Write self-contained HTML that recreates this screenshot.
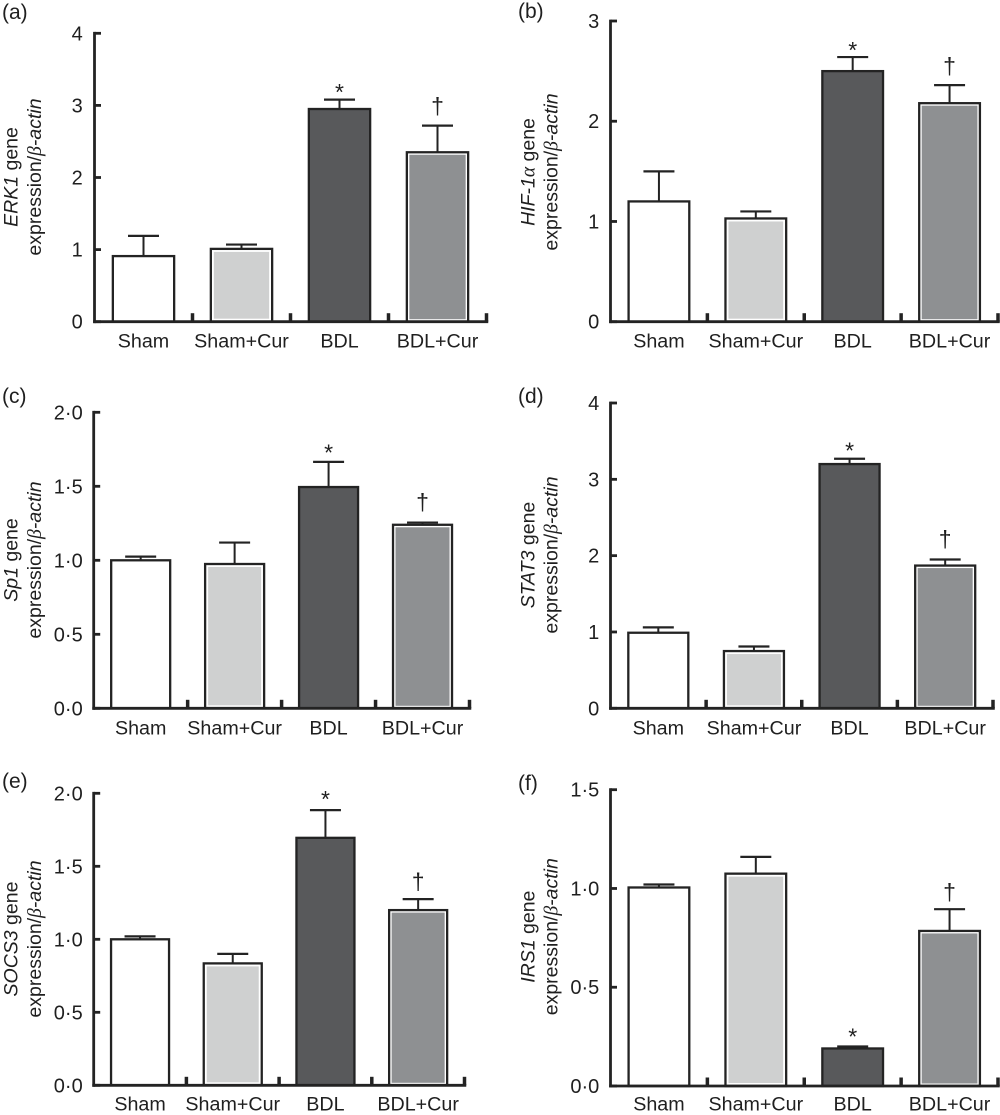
<!DOCTYPE html>
<html lang="en">
<head>
<meta charset="utf-8">
<title>Gene expression bar charts</title>
<style>
html,body{margin:0;padding:0;background:#fff;}
svg{display:block;font-family:"Liberation Sans",sans-serif;}
</style>
</head>
<body>
<svg id="figure" xmlns="http://www.w3.org/2000/svg" width="1000" height="1115" viewBox="0 0 1000 1115"></svg>
<script>
// Shared data
const categories = ['Sham', 'Sham+Cur', 'BDL', 'BDL+Cur'];

const erkValues = [0.91, 1.01, 2.95, 2.35];
const erkErrors = [0.28, 0.06, 0.13, 0.37];
const erkTicks = [0, 1, 2, 3, 4];
const erkTickLabels = ['0', '1', '2', '3', '4'];
const erkMarkers = ['', '', '*', '†'];

const hifValues = [1.2, 1.03, 2.5, 2.18];
const hifErrors = [0.3, 0.07, 0.14, 0.18];
const hifTicks = [0, 1, 2, 3];
const hifTickLabels = ['0', '1', '2', '3'];
const hifMarkers = ['', '', '*', '†'];

const sp1Values = [1.0, 0.975, 1.495, 1.24];
const sp1Errors = [0.025, 0.145, 0.17, 0.015];
const sp1Ticks = [0, 0.5, 1, 1.5, 2];
const sp1TickLabels = ['0·0', '0·5', '1·0', '1·5', '2·0'];
const sp1Markers = ['', '', '*', '†'];

const statValues = [0.99, 0.75, 3.2, 1.87];
const statErrors = [0.07, 0.06, 0.07, 0.08];
const statTicks = [0, 1, 2, 3, 4];
const statTickLabels = ['0', '1', '2', '3', '4'];
const statMarkers = ['', '', '*', '†'];

const socsValues = [1.0, 0.835, 1.695, 1.2];
const socsErrors = [0.02, 0.065, 0.19, 0.075];
const socsTicks = [0, 0.5, 1, 1.5, 2];
const socsTickLabels = ['0·0', '0·5', '1·0', '1·5', '2·0'];
const socsMarkers = ['', '', '*', '†'];

const irsValues = [1.005, 1.075, 0.19, 0.785];
const irsErrors = [0.015, 0.085, 0.01, 0.11];
const irsTicks = [0, 0.5, 1, 1.5];
const irsTickLabels = ['0·0', '0·5', '1·0', '1·5'];
const irsMarkers = ['', '', '*', '†'];

// Layout (separate from the data)
const INK = '#232323';
const TEXT = '#1f1f1f';
const CAT_FONT = 19.7;
const TICK_FONT = 20;
const TITLE_FONT = 19.5;
const MARK_FONT = 23;
const barFills = ['#ffffff', '#cfd0d0', '#58595b', '#8e9092'];
const barInsets = [0, 3, 0, 2.5];

const panels = [
  {id:'a', letter:'(a)', gene:'ERK1', geneSuffix:' gene', values:erkValues, errors:erkErrors, ticks:erkTicks, tickLabels:erkTickLabels, markers:erkMarkers,
   left:94.5, right:486.5, y0:321.7, top:33.3, barW:61.3, labelRight:82.7, catY:347.5, titleX1:17.5, titleX2:41, titleCy:177, letterX:2, letterY:19, starGap:11, daggerGap:17.7},
  {id:'b', letter:'(b)', gene:'HIF-1', greek:'α', geneSuffix:' gene', values:hifValues, errors:hifErrors, ticks:hifTicks, tickLabels:hifTickLabels, markers:hifMarkers,
   left:610.5, right:998, y0:321.7, top:21, barW:60.7, labelRight:599.3, catY:347.5, titleX1:534.3, titleX2:557.3, titleCy:172, letterX:518, letterY:18, starGap:10.7, daggerGap:17},
  {id:'c', letter:'(c)', gene:'Sp1', geneSuffix:' gene', values:sp1Values, errors:sp1Errors, ticks:sp1Ticks, tickLabels:sp1TickLabels, markers:sp1Markers,
   left:93.7, right:469.5, y0:708.3, top:412.3, barW:59, labelRight:82.7, catY:734.5, titleX1:17.3, titleX2:41, titleCy:560, letterX:2, letterY:403, starGap:13, daggerGap:18.7},
  {id:'d', letter:'(d)', gene:'STAT3', geneSuffix:' gene', values:statValues, errors:statErrors, ticks:statTicks, tickLabels:statTickLabels, markers:statMarkers,
   left:610.5, right:993, y0:708.3, top:403, barW:60, labelRight:599.3, catY:734.5, titleX1:534.3, titleX2:557.3, titleCy:555, letterX:518, letterY:403, starGap:11.7, daggerGap:18.7},
  {id:'e', letter:'(e)', gene:'SOCS3', geneSuffix:' gene', values:socsValues, errors:socsErrors, ticks:socsTicks, tickLabels:socsTickLabels, markers:socsMarkers,
   left:93.7, right:464.5, y0:1085.3, top:793.3, barW:58, labelRight:82.7, catY:1110.5, titleX1:17.3, titleX2:41, titleCy:939, letterX:2, letterY:788, starGap:14.7, daggerGap:15.7},
  {id:'f', letter:'(f)', gene:'IRS1', geneSuffix:' gene', values:irsValues, errors:irsErrors, ticks:irsTicks, tickLabels:irsTickLabels, markers:irsMarkers,
   left:610.5, right:998, y0:1086, top:789.7, barW:60.7, labelRight:599.3, catY:1110.5, titleX1:534.3, titleX2:557.3, titleCy:936.7, letterX:518, letterY:790, starGap:13.3, daggerGap:15}
];

const NS = 'http://www.w3.org/2000/svg';
const figure = document.getElementById('figure');

function make(tag, parent, props, text) {
  const node = document.createElementNS(NS, tag);
  for (const k in props) node.setAttribute(k, props[k]);
  if (text !== undefined) node.textContent = text;
  parent.appendChild(node);
  return node;
}

function drawPanel(p) {
  const maxTick = p.ticks[p.ticks.length - 1];
  const yScale = v => p.y0 - (v / maxTick) * (p.y0 - p.top);
  const step = (p.right - p.left) / categories.length;
  const xCenter = i => p.left + step * (i + 0.5);
  const xTick = i => p.left + step * (i + 1);

  const panel = make('g', figure, {});
  
  

  const letter = make('text', panel, {x:p.letterX, y:p.letterY, 'font-size':21, fill:TEXT}, p.letter);
  
  

  // y-axis title
  const title = make('text', panel, {transform:'translate(' + p.titleX1 + ' ' + p.titleCy + ') rotate(-90)', 'text-anchor':'middle', 'font-size':TITLE_FONT, fill:TEXT});
  
  
  make('tspan', title, {'font-style':'italic'}, p.gene);
  if (p.greek) make('tspan', title, {'font-style':'italic', 'font-family':'"Liberation Serif",serif'}, p.greek);
  make('tspan', title, {}, p.geneSuffix);

  const title2 = make('text', panel, {transform:'translate(' + p.titleX2 + ' ' + p.titleCy + ') rotate(-90)', 'text-anchor':'middle', 'font-size':TITLE_FONT, fill:TEXT});
  
  
  make('tspan', title2, {}, 'expression/');
  make('tspan', title2, {'font-style':'italic', 'font-family':'"Liberation Serif",serif'}, 'β');
  make('tspan', title2, {'font-style':'italic'}, '-actin');

  // bars
  p.values.forEach((v, i) => {
    const cx = xCenter(i);
    const x = cx - p.barW / 2;
    const yTop = yScale(v);
    const yErr = yScale(v + p.errors[i]);
    const h = p.y0 - yTop;

    const whisker = make('line', panel, {x1:cx, x2:cx, y1:yTop, y2:yErr, stroke:INK, 'stroke-width':2});
    
    

    const cap = make('line', panel, {x1:cx - 15.5, x2:cx + 15.5, y1:yErr, y2:yErr, stroke:INK, 'stroke-width':2.2});
    
    

    const inset = barInsets[i];
    const bar = make('rect', panel, {x:x, y:yTop, width:p.barW, height:h, fill:inset ? '#ffffff' : barFills[i], stroke:INK, 'stroke-width':2.3});
    
    

    if (inset) {
      const inner = make('rect', panel, {x:x + inset, y:yTop + inset, width:p.barW - 2 * inset, height:Math.max(0, h - 2 * inset), fill:barFills[i]});
      
      
    }

    const mark = p.markers[i];
    if (mark) {
      const isStar = mark === '*';
      const baseline = isStar ? yErr - p.starGap + 11.5 : yErr - p.daggerGap + 6;
      const sig = make('text', panel, {x:cx, y:baseline, 'text-anchor':'middle', 'font-size':MARK_FONT, fill:TEXT}, mark);
      
      
    }

    const cat = make('text', panel, {x:cx, y:p.catY, 'text-anchor':'middle', 'font-size':CAT_FONT, fill:TEXT}, categories[i]);
    
    

    const xt = make('line', panel, {x1:xTick(i), x2:xTick(i), y1:p.y0, y2:p.y0 - 8.5, stroke:INK, 'stroke-width':3.5});
    
    
  });

  // axes
  const yAxis = make('line', panel, {x1:p.left, x2:p.left, y1:p.top - 1.4, y2:p.y0 + 1.4, stroke:INK, 'stroke-width':2.8});
  
  

  const xAxis = make('line', panel, {x1:p.left - 1.4, x2:p.right + 1.75, y1:p.y0, y2:p.y0, stroke:INK, 'stroke-width':2.8});
  
  

  p.ticks.forEach((t, i) => {
    const y = yScale(t);
    const yt = make('line', panel, {x1:p.left, x2:p.left + 6.5, y1:y, y2:y, stroke:INK, 'stroke-width':2.8});
    
    

    const tl = make('text', panel, {x:p.labelRight, y:y + 7, 'text-anchor':'end', 'font-size':TICK_FONT, fill:TEXT}, p.tickLabels[i]);
    
    
  });
}

panels.forEach(drawPanel);
</script>
</body>
</html>
